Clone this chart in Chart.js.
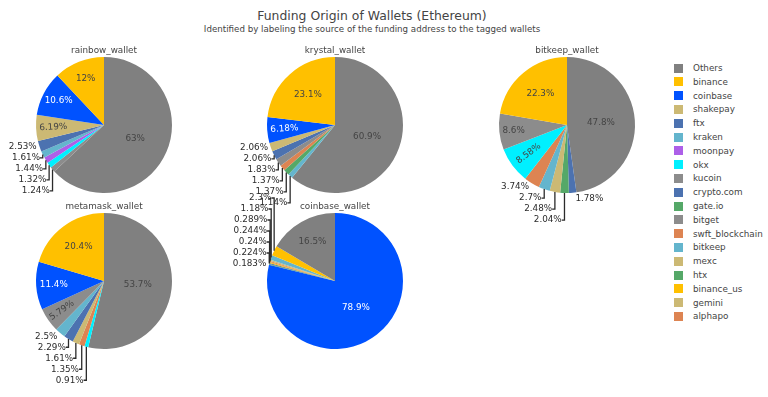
<!DOCTYPE html>
<html>
<head>
<meta charset="utf-8">
<title>Funding Origin of Wallets (Ethereum)</title>
<script src="https://cdn.jsdelivr.net/npm/chart.js@4.4.0/dist/chart.umd.min.js"></script>
<style>
    html, body { margin: 0; padding: 0; background: #fff; }
    #page {
        position: relative; width: 768px; height: 397px; overflow: hidden;
        font-family: 'DejaVu Sans', Verdana, sans-serif; color: #444;
    }
    #page canvas { position: absolute; left: 0; top: 0; }
    .head { position: absolute; left: 0; width: 744px; text-align: center; white-space: nowrap; }
    #title { top: 8px; font-size: 12.4px; line-height: 15px; }
    #subtitle { top: 23.5px; font-size: 8.7px; line-height: 11px; }
    .leg { position: absolute; left: 674px; height: 12px; font-size: 8.8px; line-height: 12px; white-space: nowrap; }
    .leg i { position: absolute; left: 0; top: 1.5px; width: 9px; height: 9px; }
    .leg span { position: absolute; left: 19px; top: 0; }
</style>
</head>
<body>
<div id="page">
    <div class="head" id="title">Funding Origin of Wallets (Ethereum)</div>
    <div class="head" id="subtitle">Identified by labeling the source of the funding address to the tagged wallets</div>
    <div id="legend"></div>
</div>
<script>
// Funding origin pies - one pie per wallet, legend shared

// Slices listed counter-clockwise from 12 o'clock, as in the original figure
const rainbowLabels = ['binance', 'coinbase', 'shakepay', 'ftx', 'kraken', 'moonpay', 'okx', 'kucoin', 'Others'];
const rainbowValues = [12, 10.6, 6.19, 2.53, 1.61, 1.44, 1.32, 1.24, 63];

const krystalLabels = ['binance', 'coinbase', 'shakepay', 'crypto.com', 'bitget', 'swft_blockchain', 'gate.io', 'kraken', 'Others'];
const krystalValues = [23.1, 6.18, 2.06, 2.06, 1.83, 1.37, 1.37, 1.14, 60.9];

const bitkeepLabels = ['binance', 'bitget', 'okx', 'swft_blockchain', 'bitkeep', 'mexc', 'htx', 'crypto.com', 'Others'];
const bitkeepValues = [22.3, 8.6, 8.58, 3.74, 2.7, 2.48, 2.04, 1.78, 47.8];

const metamaskLabels = ['binance', 'coinbase', 'kucoin', 'kraken', 'ftx', 'shakepay', 'swft_blockchain', 'okx', 'Others'];
const metamaskValues = [20.4, 11.4, 5.79, 2.5, 2.29, 1.61, 1.35, 0.91, 53.7];

const coinbaseLabels = ['Others', 'binance', 'kraken', 'gemini', 'alphapo', 'binance_us', 'ftx', 'gate.io', 'coinbase'];
const coinbaseValues = [16.5, 2.3, 1.18, 0.289, 0.244, 0.24, 0.224, 0.183, 78.9];

// Legend (same order as the figure)
const LEGEND_LABELS = ['Others', 'binance', 'coinbase', 'shakepay', 'ftx', 'kraken', 'moonpay', 'okx', 'kucoin',
    'crypto.com', 'gate.io', 'bitget', 'swft_blockchain', 'bitkeep', 'mexc', 'htx', 'binance_us', 'gemini', 'alphapo'];
const LEGEND_COLORS = ['#808080', '#FFC000', '#0052FF', '#CCB974', '#4C72B0', '#64B5CD', '#AD5FE8', '#00F0FF', '#8C8C8C',
    '#4C72B0', '#55A868', '#8C8C8C', '#DD8452', '#64B5CD', '#CCB974', '#55A868', '#FFC000', '#CCB974', '#DD8452'];

// Layout of the page
const W = 768, H = 397;
const R = 68;
const PIES = [
    { id: 'rainbow_wallet',  labels: rainbowLabels,  values: rainbowValues,  cx: 104, cy: 125 },
    { id: 'krystal_wallet',  labels: krystalLabels,  values: krystalValues,  cx: 335, cy: 125 },
    { id: 'bitkeep_wallet',  labels: bitkeepLabels,  values: bitkeepValues,  cx: 567, cy: 125 },
    { id: 'metamask_wallet', labels: metamaskLabels, values: metamaskValues, cx: 104, cy: 281 },
    { id: 'coinbase_wallet', labels: coinbaseLabels, values: coinbaseValues, cx: 335, cy: 281 }
];

const FONT = "'DejaVu Sans', Verdana, sans-serif";
const TEXT_SIZE = 8.8;
const TEXT_H = 11;      // text box height used for label stacking
const TEXT_PAD = 2.2;
const OUT_COLOR = '#2b2b2b';

function colorOf(label) {
    return LEGEND_COLORS[LEGEND_LABELS.indexOf(label)];
}

function isLight(hex) {
    const n = parseInt(hex.slice(1), 16);
    const r = n >> 16, g = (n >> 8) & 255, b = n & 255;
    return (r * 299 + g * 587 + b * 114) / 1000 >= 128;
}

function drawInside(ctx, text, x, y, rot, bg) {
    ctx.save();
    ctx.translate(x, y);
    ctx.rotate(rot);
    ctx.fillStyle = isLight(bg) ? '#444' : '#fff';
    ctx.fillText(text, 0, 0);
    ctx.restore();
}

// percent labels, placed the way plotly does it (inside if it fits, otherwise outside + leader line)
const pieText = {
    id: 'pieText',
    afterDatasetsDraw(chart, args, opts) {
        const ctx = chart.ctx;
        const ds = chart.data.datasets[0];
        const arcs = chart.getDatasetMeta(0).data;
        const total = ds.data.reduce((a, b) => a + b, 0);
        const quads = [[[], []], [[], []]];
        let cx = 0, cy = 0, r = 0;

        ctx.save();
        ctx.font = TEXT_SIZE + 'px ' + FONT;
        ctx.textAlign = 'center';
        ctx.textBaseline = 'middle';

        arcs.forEach((arc, i) => {
            const p = arc.getProps(['x', 'y', 'startAngle', 'endAngle', 'outerRadius'], true);
            cx = p.x; cy = p.y; r = p.outerRadius;
            const text = ds.data[i] + '%';
            const w = ctx.measureText(text).width;
            const h = TEXT_H;
            const mid = (p.startAngle + p.endAngle) / 2;
            const half = Math.PI * Math.min(ds.data[i] / total, 0.5);
            const mx = Math.cos(mid) * r, my = Math.sin(mid) * r;
            const bg = ds.backgroundColor[i];

            // horizontal, inside inscribed circle
            const rIns = Math.min(1 / (1 + 1 / Math.sin(half)), 0.5);
            if (rIns * r * 2 >= Math.hypot(w, h)) {
                drawInside(ctx, text, cx + mx * (1 - rIns), cy + my * (1 - rIns), 0, bg);
                return;
            }
            // radial
            const rr = r - 2 * TEXT_PAD;
            const a = w / h;
            const q = a + 1 / (2 * Math.tan(half));
            const s = rr * Math.min(1 / (Math.sqrt(q * q + 0.5) + q), 1 / (Math.sqrt(a * a + 0.5) + a));
            if (s * 2 / h >= 1) {
                const rc = Math.cos(s / rr) - a * s / rr;
                let rot = mid;
                if (Math.cos(rot) < 0) rot += Math.PI;
                drawInside(ctx, text, cx + mx * rc, cy + my * rc, rot, bg);
                return;
            }
            // outside
            let dx = w / 2, dy = h / 2;
            if (mx < 0) dx = -dx;
            if (my < 0) dy = -dy;
            const ox = dx + Math.abs(dy) * (dx > 0 ? 1 : -1) / 2;
            const oy = my === 0 ? 0 : dy / (1 + mx * mx / (my * my));
            quads[my < 0 ? 0 : 1][mx < 0 ? 0 : 1].push({
                text, h, px: cx + mx, py: cy + my,
                x: cx + mx + ox, y: cy + my + oy, extra: 0, side: mx < 0 ? -1 : 1
            });
        });

        // push overlapping outside labels away from the equator
        for (let yh = 0; yh < 2; yh++) {
            for (let xh = 0; xh < 2; xh++) {
                const list = quads[yh][xh].sort((a, b) => yh ? a.py - b.py : b.py - a.py);
                let prev = null;
                list.forEach(l => {
                    if (prev) {
                        const prevOuter = prev.extra + (yh ? prev.y + prev.h / 2 : prev.y - prev.h / 2);
                        const inner = yh ? l.y - l.h / 2 : l.y + l.h / 2;
                        const e = prevOuter - inner;
                        if (e * (yh ? 1 : -1) > 0) l.extra = e;
                    }
                    prev = l;
                });
            }
        }

        ctx.fillStyle = OUT_COLOR;
        ctx.strokeStyle = OUT_COLOR;
        ctx.lineWidth = 1.3;
        quads.flat(2).forEach(l => {
            const ty = l.y + l.extra;
            ctx.fillText(l.text, l.x, ty);
            if (l.extra) {
                ctx.beginPath();
                ctx.moveTo(l.px, l.py);
                ctx.lineTo(l.px, ty);
                ctx.lineTo(l.px + l.side * l.h / 4, ty);
                ctx.stroke();
            }
        });

        // subplot title
        ctx.fillStyle = '#444';
        ctx.fillText(opts.title, cx, cy - r - 6);
        ctx.restore();
    }
};

const page = document.getElementById('page');
window.charts = {};

PIES.forEach(pie => {
    const canvas = document.createElement('canvas');
    canvas.width = W;
    canvas.height = H;
    canvas.id = pie.id;
    page.appendChild(canvas);

    // Chart.js goes clockwise, so reverse the counter-clockwise lists
    const labels = pie.labels.slice().reverse();
    const values = pie.values.slice().reverse();

    window.charts[pie.id] = new Chart(canvas, {
        type: 'pie',
        data: {
            labels: labels,
            datasets: [{
                data: values,
                backgroundColor: labels.map(colorOf),
                borderWidth: 0,
                offset: 0,
                hoverOffset: 0
            }]
        },
        options: {
            responsive: false,
            animation: false,
            events: [],
            devicePixelRatio: 1,
            layout: {
                padding: {
                    left: pie.cx - R,
                    top: pie.cy - R,
                    right: W - pie.cx - R,
                    bottom: H - pie.cy - R
                }
            },
            plugins: {
                legend: { display: false },
                tooltip: { enabled: false },
                pieText: { title: pie.id }
            }
        },
        plugins: [pieText]
    });
});

// shared legend
const legend = document.getElementById('legend');
LEGEND_LABELS.forEach((label, i) => {
    const row = document.createElement('div');
    row.className = 'leg';
    row.style.top = (62 + i * 13.8) + 'px';
    row.innerHTML = '<i style="background:' + LEGEND_COLORS[i] + '"></i><span>' + label + '</span>';
    legend.appendChild(row);
});
</script>
</body>
</html>
